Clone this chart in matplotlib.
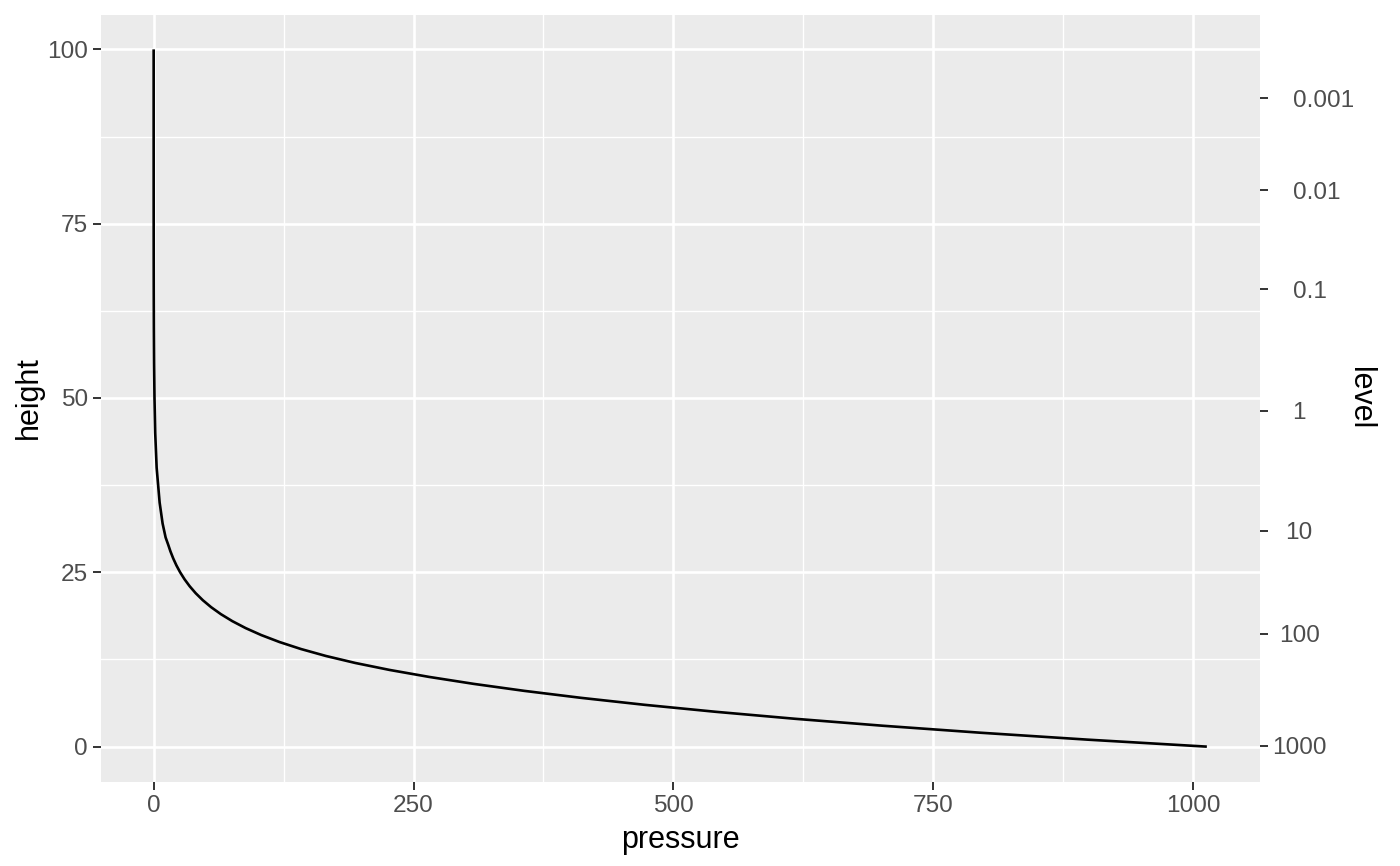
import numpy as np
import matplotlib
matplotlib.use("Agg")
import matplotlib.pyplot as plt

# Standard atmosphere: height (km) vs pressure (hPa)
height = [0, 1, 2, 3, 4, 5, 6, 7, 8, 9, 10, 11, 12, 13, 14, 15, 16, 17, 18, 19,
          20, 21, 22, 23, 24, 25, 26, 27, 28, 29, 30, 32, 35, 40, 45, 50, 55,
          60, 65, 70, 75, 80, 85, 90, 100]
pressure = [1013.25, 898.76, 795.01, 701.21, 616.60, 540.48, 472.17, 411.05,
            356.51, 308.00, 264.99, 226.99, 193.99, 165.79, 141.70, 121.11,
            103.52, 88.50, 75.65, 64.67, 55.29, 47.29, 40.47, 34.67, 29.72,
            25.49, 21.88, 18.80, 16.16, 13.90, 11.5, 8.6, 5.75, 2.87, 1.49,
            0.798, 0.425, 0.220, 0.109, 0.0522, 0.0239, 0.00965, 0.00446,
            0.00184, 0.00024]

x_breaks = [0, 250, 500, 750, 1000]
x_minor = [125, 375, 625, 875]
y_breaks = [0, 25, 50, 75, 100]
y_minor = [12.5, 37.5, 62.5, 87.5]
level_breaks = [1000, 100, 10, 1, 0.1, 0.01, 0.001]
level_labels = ["1000", "100", "10", "1", "0.1", "0.01", "0.001"]

plt.rcParams['font.family'] = ['Liberation Sans', 'DejaVu Sans']

fig = plt.figure(figsize=(14, 8.66), dpi=100)
ax = fig.add_axes([101 / 1400, 1 - 781.5 / 866, 1158.5 / 1400, 767 / 866])
ax.set_facecolor('#EBEBEB')
for s in ax.spines.values():
    s.set_visible(False)

ax.plot(pressure, height, color='black', lw=1.9, solid_capstyle='butt', zorder=3)

xr = max(pressure) - min(pressure)
ax.set_xlim(0 - 0.05 * xr, max(pressure) + 0.05 * xr)
ax.set_ylim(-5, 105)

ax.set_xticks(x_breaks)
ax.set_xticks(x_minor, minor=True)
ax.set_yticks(y_breaks)
ax.set_yticks(y_minor, minor=True)
ax.grid(which='major', color='white', lw=1.9)
ax.grid(which='minor', color='white', lw=0.95)
ax.set_axisbelow(True)
ax.tick_params(which='major', length=5.5, width=1.4, color='#333333',
               labelsize=17.6, labelcolor='#4D4D4D', pad=4)
ax.tick_params(which='minor', length=0)
ax.set_xlabel('pressure', fontsize=22, labelpad=6)
ax.set_ylabel('height', fontsize=22, labelpad=2)

# secondary axis: level positions from the pressure/height data
logp = np.log10(pressure)[::-1]
h_rev = np.array(height)[::-1]
level_pos = np.interp(np.log10(level_breaks), logp, h_rev)

ax2 = ax.twinx()
ax2.set_ylim(ax.get_ylim())
for s in ax2.spines.values():
    s.set_visible(False)
ax2.set_yticks(level_pos)
ax2.set_yticklabels(level_labels)
ax2.tick_params(length=5.5, width=1.4, color='#333333', labelsize=17.6,
                labelcolor='#4D4D4D', pad=18.7)
ax2.set_ylabel('level', fontsize=22, rotation=-90, labelpad=15)

# integer labels are centred a little right of where the decimal ones start
shift = 6 / 1158.5
for lab, txt in zip(ax2.get_yticklabels(), level_labels):
    if '.' in txt:
        lab.set_ha('left')
    else:
        lab.set_ha('center')
        lab.set_x(1 + shift)

fig.savefig('out.png', dpi=100)
